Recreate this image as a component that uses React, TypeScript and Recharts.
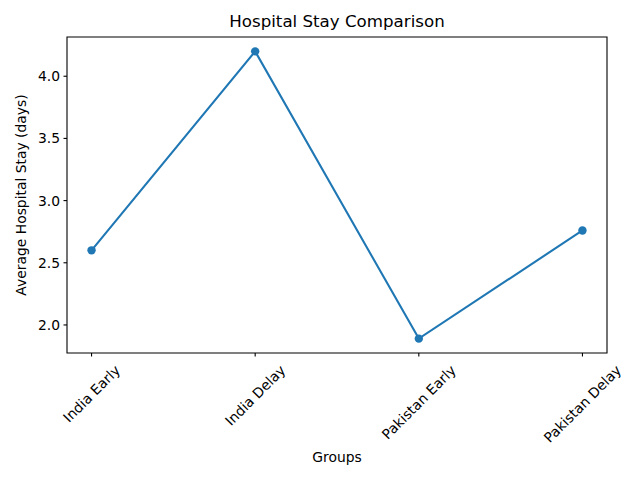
import React from "react";
import {
  LineChart,
  Line,
  XAxis,
  YAxis,
  ReferenceArea,
} from "recharts";

const groups = ["India Early", "India Delay", "Pakistan Early", "Pakistan Delay"];
const avgStay = [2.6, 4.2, 1.89, 2.76];
const yTicks = [2.0, 2.5, 3.0, 3.5, 4.0];
const xTicks = [0, 1, 2, 3];

const FONT = "DejaVu Sans";
const FS = 13.89;
const BLUE = "#1f77b4";

const data = groups.map((g, i) => ({ idx: i, group: g, stay: avgStay[i] }));

// matplotlib-style 5% autoscale margins
const lo = Math.min(...avgStay);
const hi = Math.max(...avgStay);
const pad = (hi - lo) * 0.05;
const yDomain: [number, number] = [lo - pad, hi + pad];
const xDomain: [number, number] = [-0.15, 3.15];

let ctx: CanvasRenderingContext2D | null = null;
function textWidth(s: string): number {
  if (!ctx) ctx = document.createElement("canvas").getContext("2d");
  if (!ctx) return s.length * 8;
  ctx.font = `${FS}px "${FONT}"`;
  return ctx.measureText(s).width;
}

function RotatedTick(props: any) {
  const { x, payload } = props;
  const label = groups[payload.value] ?? "";
  const w = textWidth(label);
  const h = 16.2;
  const side = (w + h) * Math.SQRT1_2;
  const top = 362;
  const cy = top + side / 2;
  return (
    <text
      x={x}
      y={cy}
      textAnchor="middle"
      dominantBaseline="central"
      transform={`rotate(-45 ${x} ${cy})`}
      fontFamily={FONT}
      fontSize={FS}
      fill="#000"
    >
      {label}
    </text>
  );
}

export default function App() {
  return (
    <div style={{ position: "absolute", left: 0, top: 0, width: 640, height: 480, background: "#fff" }}>
      <div
        style={{
          position: "absolute",
          left: 67,
          width: 540,
          top: 12,
          height: 20,
          lineHeight: "20px",
          textAlign: "center",
          fontFamily: FONT,
          fontSize: 16.67,
          color: "#000",
        }}
      >
        Hospital Stay Comparison
      </div>
      <LineChart
        width={640}
        height={480}
        data={data}
        margin={{ top: 37, right: 33, bottom: 0, left: 0 }}
      >
        <XAxis
          dataKey="idx"
          type="number"
          domain={xDomain}
          ticks={xTicks}
          allowDataOverflow
          height={127}
          axisLine={false}
          tickSize={3.5}
          tickLine={{ stroke: "#000", strokeWidth: 1.1 }}
          tick={<RotatedTick />}
          label={{
            content: () => (
              <text x={337} y={457} textAnchor="middle" dominantBaseline="central" fontFamily={FONT} fontSize={FS} fill="#000">
                Groups
              </text>
            ),
          }}
        />
        <YAxis
          type="number"
          domain={yDomain}
          ticks={yTicks}
          allowDataOverflow
          width={67}
          axisLine={false}
          tickSize={3.5}
          tickMargin={3.5}
          tickLine={{ stroke: "#000", strokeWidth: 1.1 }}
          tickFormatter={(v: number) => v.toFixed(1)}
          tick={{ fill: "#000", fontFamily: FONT, fontSize: FS }}
          label={{
            content: () => (
              <text
                x={21}
                y={195}
                textAnchor="middle"
                dominantBaseline="central"
                transform="rotate(-90 21 195)"
                fontFamily={FONT}
                fontSize={FS}
                fill="#000"
              >
                Average Hospital Stay (days)
              </text>
            ),
          }}
        />
        <Line
          type="linear"
          dataKey="stay"
          stroke={BLUE}
          strokeWidth={2.08}
          dot={{ r: 4.2, fill: BLUE, stroke: BLUE, strokeWidth: 0 }}
          activeDot={false}
          isAnimationActive={false}
        />
        <ReferenceArea
          x1={xDomain[0]}
          x2={xDomain[1]}
          y1={yDomain[0]}
          y2={yDomain[1]}
          stroke="#000"
          strokeWidth={1.1}
          fill="none"
          fillOpacity={0}
          ifOverflow="visible"
        />
      </LineChart>
    </div>
  );
}
